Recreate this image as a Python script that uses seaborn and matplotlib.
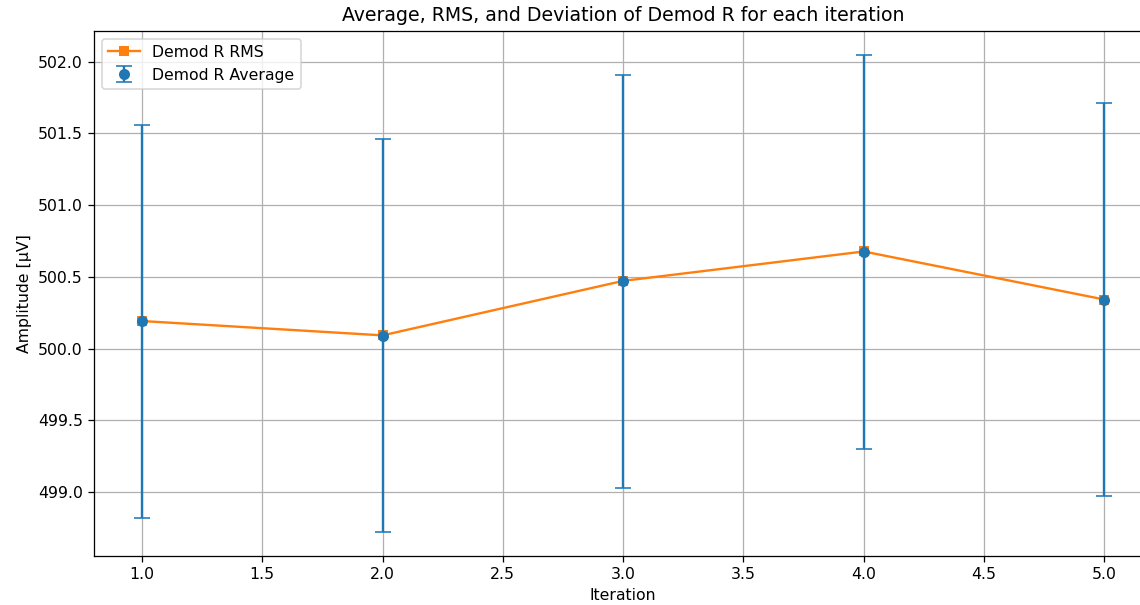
import matplotlib
matplotlib.use("Agg")
import matplotlib.pyplot as plt
import seaborn as sns
import numpy as np
import pandas as pd

# Per-iteration statistics of the demodulated R amplitude (µV)
iterations = [1.0, 2.0, 3.0, 4.0, 5.0]
r_average = [500.19, 500.09, 500.47, 500.675, 500.34]
r_deviation = [1.37, 1.37, 1.44, 1.375, 1.37]
r_rms = [500.192, 500.092, 500.472, 500.677, 500.342]

plt.rcParams.update(matplotlib.rcParamsDefault)
plt.rcParams["font.family"] = ["DejaVu Sans"]

DPI = 113.6
W, H = 1140, 605
fig = plt.figure(figsize=(W / DPI, H / DPI), dpi=DPI)
ax = fig.add_axes([93.9 / W, 1 - 556 / H, (1152.4 - 93.9) / W, (556 - 30.7) / H])

df = pd.DataFrame({"Iteration": iterations, "RMS": r_rms})
sns.lineplot(data=df, x="Iteration", y="RMS", ax=ax, color="#ff7f0e",
             marker="s", markersize=6, markeredgewidth=0,
             label="Demod R RMS", linewidth=1.5)

ax.errorbar(iterations, r_average, yerr=r_deviation, fmt="o", color="#1f77b4",
            capsize=5, markersize=6, elinewidth=1.5, capthick=1,
            label="Demod R Average")

ax.set_title("Average, RMS, and Deviation of Demod R for each iteration")
ax.set_xlabel("Iteration")
ax.set_ylabel("Amplitude [µV]")
ax.grid(True)
ax.set_axisbelow(True)
ax.legend(loc="upper left")

fig.savefig("out.png", dpi=DPI)
